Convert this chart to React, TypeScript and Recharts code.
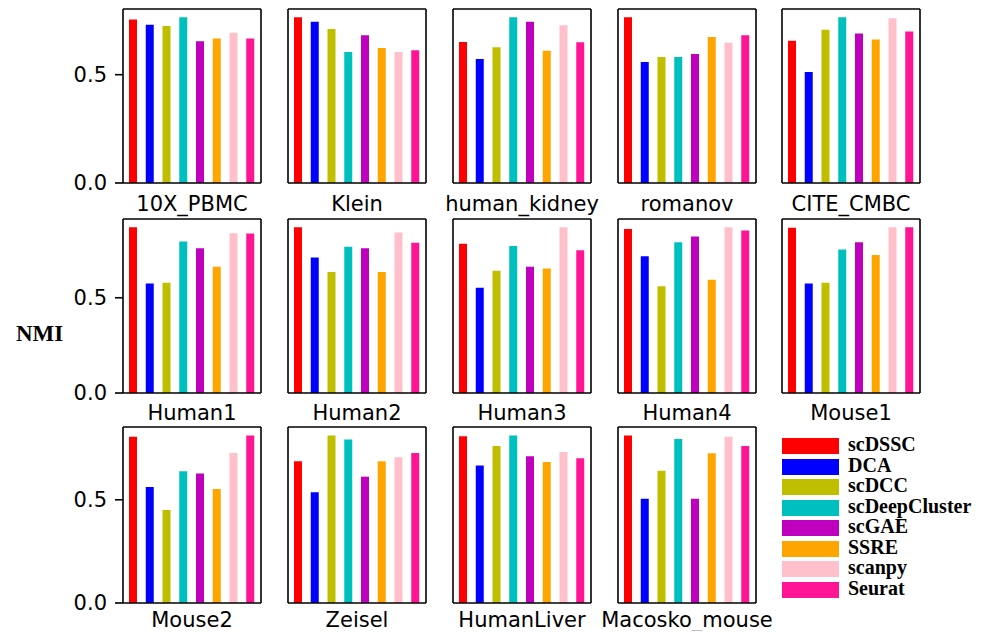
import { BarChart, Bar, XAxis, YAxis, Cell } from "recharts";

const METHODS = ["scDSSC", "DCA", "scDCC", "scDeepCluster", "scGAE", "SSRE", "scanpy", "Seurat"];
const COLORS = ["#ff0000", "#0000ff", "#bfbf00", "#00bfbf", "#bf00bf", "#ffa500", "#ffc0cb", "#ff1493"];

// NMI per dataset, in METHODS order
const PBMC_10X = [0.755, 0.73, 0.725, 0.765, 0.654, 0.667, 0.694, 0.667];
const KLEIN = [0.765, 0.744, 0.711, 0.605, 0.682, 0.623, 0.605, 0.613];
const HUMAN_KIDNEY = [0.651, 0.573, 0.627, 0.765, 0.744, 0.61, 0.728, 0.65];
const ROMANOV = [0.765, 0.559, 0.582, 0.582, 0.596, 0.674, 0.647, 0.682];
const CITE_CMBC = [0.657, 0.512, 0.708, 0.765, 0.69, 0.662, 0.761, 0.699];
const HUMAN1 = [0.87, 0.575, 0.579, 0.795, 0.76, 0.663, 0.839, 0.837];
const HUMAN2 = [0.87, 0.712, 0.635, 0.768, 0.76, 0.635, 0.842, 0.789];
const HUMAN3 = [0.784, 0.553, 0.642, 0.772, 0.663, 0.653, 0.87, 0.749];
const HUMAN4 = [0.861, 0.718, 0.56, 0.791, 0.821, 0.595, 0.87, 0.853];
const MOUSE1 = [0.868, 0.575, 0.579, 0.754, 0.791, 0.725, 0.87, 0.87];
const MOUSE2 = [0.805, 0.562, 0.45, 0.638, 0.627, 0.552, 0.727, 0.812];
const ZEISEL = [0.687, 0.536, 0.812, 0.792, 0.612, 0.687, 0.706, 0.727];
const HUMAN_LIVER = [0.808, 0.666, 0.761, 0.812, 0.711, 0.683, 0.732, 0.701];
const MACOSKO_MOUSE = [0.812, 0.505, 0.641, 0.794, 0.505, 0.726, 0.805, 0.761];

const DATASETS = [
  "10X_PBMC", "Klein", "human_kidney", "romanov", "CITE_CMBC",
  "Human1", "Human2", "Human3", "Human4", "Mouse1",
  "Mouse2", "Zeisel", "HumanLiver", "Macosko_mouse",
];
const VALUES = [
  PBMC_10X, KLEIN, HUMAN_KIDNEY, ROMANOV, CITE_CMBC,
  HUMAN1, HUMAN2, HUMAN3, HUMAN4, MOUSE1,
  MOUSE2, ZEISEL, HUMAN_LIVER, MACOSKO_MOUSE,
];
const Y_TICKS = [0, 0.5];

const FRAME_LEFT = [123, 288, 453, 618, 782];
const FRAME_TOP = [9, 219, 427];
const FRAME_H = [174, 174, 176];
const XH = [38, 38, 28];
const LABEL_DROP = [28, 27, 24];
const PW = 138;
const YW = 70;
const RM = 30;
const AXIS = { stroke: "#000", strokeWidth: 1.6 };
const SANS = "DejaVu Sans";

// sharey per row, matplotlib-like 5% headroom
const rowMax = (r: number) =>
  Math.max(...VALUES.slice(r * 5, r * 5 + 5).flat()) * 1.05;

function Panel({ idx }: { idx: number }) {
  const row = Math.floor(idx / 5);
  const col = idx % 5;
  const yMax = rowMax(row);
  const data = METHODS.map((m, k) => ({ method: m, value: VALUES[idx][k] }));
  return (
    <div style={{ position: "absolute", left: FRAME_LEFT[col] - YW, top: FRAME_TOP[row] - 4 }}>
      <BarChart
        width={YW + PW + RM}
        height={4 + FRAME_H[row] + XH[row]}
        data={data}
        margin={{ top: 3, right: RM - 1, left: 0, bottom: 0 }}
      >
        <XAxis
          dataKey="method"
          tick={false}
          tickLine={false}
          axisLine={AXIS}
          padding={{ left: 2, right: 2 }}
          height={XH[row]}
          label={{
            value: DATASETS[idx],
            position: "insideBottom",
            offset: XH[row] - LABEL_DROP[row],
            fill: "#000",
            fontSize: 21,
            fontFamily: SANS,
          }}
        />
        <XAxis
          xAxisId="top"
          orientation="top"
          dataKey="method"
          height={1}
          tick={false}
          tickLine={false}
          axisLine={AXIS}
          padding={{ left: 2, right: 2 }}
        />
        <YAxis
          domain={[0, yMax]}
          ticks={Y_TICKS}
          width={YW}
          allowDataOverflow
          axisLine={AXIS}
          tick={col === 0 ? { fill: "#000", fontSize: 21, fontFamily: SANS } : false}
          tickLine={col === 0 ? AXIS : false}
          tickSize={8}
          tickMargin={8}
          tickFormatter={(v: number) => v.toFixed(1)}
        />
        <YAxis
          yAxisId="right"
          orientation="right"
          domain={[0, yMax]}
          width={1}
          allowDataOverflow
          tick={false}
          tickLine={false}
          axisLine={AXIS}
        />
        <Bar dataKey="value" barSize={8} isAnimationActive={false}>
          {data.map((d, k) => (
            <Cell key={d.method} fill={COLORS[k]} />
          ))}
        </Bar>
        <Bar
          xAxisId="top"
          yAxisId="right"
          dataKey="value"
          barSize={8}
          fill="none"
          legendType="none"
          isAnimationActive={false}
        />
      </BarChart>
    </div>
  );
}

export default function App() {
  return (
    <div style={{ position: "absolute", left: 0, top: 0, width: 988, height: 632, background: "#fff" }}>
      {DATASETS.map((_, i) => (
        <Panel key={i} idx={i} />
      ))}
      <div
        style={{
          position: "absolute",
          left: 16,
          top: 321,
          fontFamily: "Liberation Serif",
          fontWeight: "bold",
          fontSize: 23,
          lineHeight: "26px",
        }}
      >
        NMI
      </div>
      <div style={{ position: "absolute", left: 782, top: 436 }}>
        {METHODS.map((m, k) => (
          <div key={m} style={{ display: "flex", alignItems: "center", height: 20.5 }}>
            <div style={{ width: 57, height: 16, background: COLORS[k], marginRight: 9 }} />
            <span
              style={{
                fontFamily: "Liberation Serif",
                fontWeight: "bold",
                fontSize: 20,
                lineHeight: "20px",
                marginTop: -4,
              }}
            >
              {m}
            </span>
          </div>
        ))}
      </div>
    </div>
  );
}
